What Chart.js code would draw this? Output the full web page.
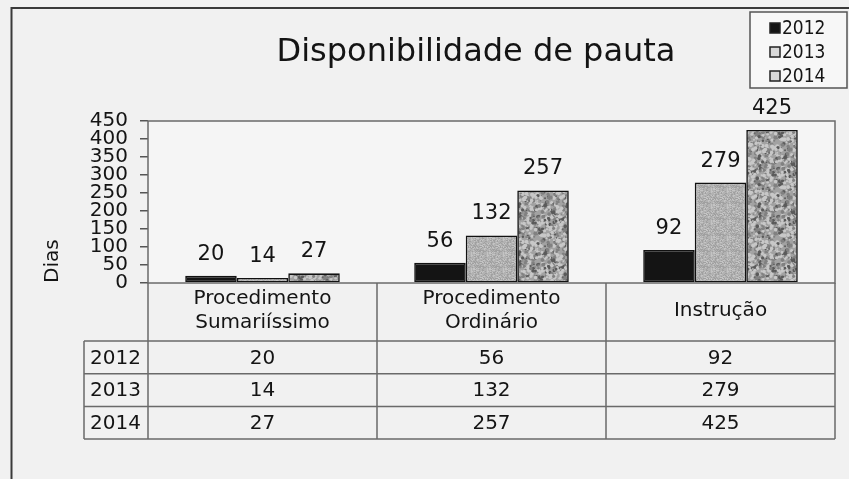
<!DOCTYPE html>
<html>
<head>
<meta charset="utf-8">
<title>Disponibilidade de pauta</title>
<script src="https://cdn.jsdelivr.net/npm/chart.js@4.4.1/dist/chart.umd.min.js"></script>
<style>
  html, body { margin: 0; padding: 0; background: #f1f1f1; }
  canvas { display: block; }
</style>
</head>
<body>
<canvas id="chart" width="849" height="479"></canvas>
<script>
const chartTitle = "Disponibilidade de pauta";
const categories = [["Procedimento", "Sumariíssimo"], ["Procedimento", "Ordinário"], ["Instrução"]];
const years = ["2012", "2013", "2014"];
const values2012 = [20, 56, 92];
const values2013 = [14, 132, 279];
const values2014 = [27, 257, 425];
const yTicks = [0, 50, 100, 150, 200, 250, 300, 350, 400, 450];

const FONT = "'DejaVu Sans', sans-serif";
const TEXT = "#141414";
const LINE = "#6a6a6a";

// scanned-looking textures for the grey bars (fixed hash, not data)
function noise(x, y) {
  const s = Math.sin(x * 12.9898 + y * 78.233) * 43758.5453;
  return s - Math.floor(s);
}

function makePattern(size, draw) {
  const c = document.createElement("canvas");
  c.width = c.height = size;
  const g = c.getContext("2d");
  draw(g, size);
  return g.createPattern(c, "repeat");
}

const fill2013 = makePattern(16, (g, n) => {
  g.fillStyle = "#b2b2b2";
  g.fillRect(0, 0, n, n);
  for (let i = 0; i < n; i++) {
    for (let j = 0; j < n; j++) {
      const v = noise(i, j);
      if (v > 0.72) { g.fillStyle = "#a0a0a0"; g.fillRect(i, j, 1, 1); }
      else if (v < 0.18) { g.fillStyle = "#c4c4c4"; g.fillRect(i, j, 1, 1); }
    }
  }
});

const fill2014 = makePattern(48, (g, n) => {
  g.fillStyle = "#a2a2a2";
  g.fillRect(0, 0, n, n);
  for (let k = 0; k < 420; k++) {
    const px = noise(k, 1.3) * n;
    const py = noise(2.7, k) * n;
    const r = 0.7 + noise(k, k * 0.5) * 1.3;
    const v = noise(k * 1.7, 5.1);
    g.fillStyle = v > 0.55 ? "#c8c8c8" : (v > 0.2 ? "#818181" : "#5a5a5a");
    for (const [ox, oy] of [[0, 0], [n, 0], [0, n], [n, n], [-n, 0], [0, -n]]) {
      g.beginPath();
      g.arc(px + ox, py + oy, r, 0, Math.PI * 2);
      g.fill();
    }
  }
});

const framePlugin = {
  id: "frame",
  beforeDraw(chart) {
    const ctx = chart.ctx;
    const a = chart.chartArea;
    ctx.save();
    ctx.fillStyle = "#f1f1f1";
    ctx.fillRect(0, 0, chart.width, chart.height);
    ctx.strokeStyle = "#3a3a3a";
    ctx.lineWidth = 2;
    ctx.beginPath();
    ctx.moveTo(11.5, chart.height);
    ctx.lineTo(11.5, 8);
    ctx.lineTo(chart.width, 8);
    ctx.stroke();
    ctx.fillStyle = "#f5f5f5";
    ctx.fillRect(a.left, a.top, a.right - a.left, a.bottom - a.top);
    ctx.restore();
  },
  afterDatasetsDraw(chart) {
    const ctx = chart.ctx;
    const a = chart.chartArea;
    ctx.save();
    ctx.strokeStyle = LINE;
    ctx.lineWidth = 1.5;
    ctx.strokeRect(a.left, a.top, a.right - a.left, a.bottom - a.top);
    ctx.restore();
  }
};

const valueLabels = {
  id: "valueLabels",
  afterDatasetsDraw(chart) {
    const ctx = chart.ctx;
    ctx.save();
    ctx.font = "21px " + FONT;
    ctx.fillStyle = TEXT;
    ctx.textAlign = "center";
    ctx.textBaseline = "alphabetic";
    chart.data.datasets.forEach((ds, i) => {
      chart.getDatasetMeta(i).data.forEach((bar, j) => {
        ctx.fillText(String(ds.data[j]), bar.x, bar.y - 16);
      });
    });
    ctx.restore();
  }
};

const titleAndLegend = {
  id: "titleAndLegend",
  afterDraw(chart) {
    const ctx = chart.ctx;
    ctx.save();
    ctx.fillStyle = TEXT;
    ctx.font = "32px " + FONT;
    ctx.textAlign = "center";
    ctx.textBaseline = "alphabetic";
    ctx.fillText(chartTitle, 476, 61);

    // legend box, top right
    ctx.fillStyle = "#f7f7f7";
    ctx.fillRect(750, 12, 97, 76);
    ctx.strokeStyle = "#555";
    ctx.lineWidth = 1.5;
    ctx.strokeRect(750, 12, 97, 76);
    ctx.font = "19px 'DejaVu Sans Condensed', " + FONT;
    ctx.textAlign = "left";
    ctx.textBaseline = "middle";
    chart.data.datasets.forEach((ds, i) => {
      const y = 28 + i * 24;
      ctx.fillStyle = i === 0 ? ds.backgroundColor : "#d8d8d8";
      ctx.fillRect(770, y - 5, 10, 10);
      ctx.strokeStyle = "#222";
      ctx.lineWidth = 1.5;
      ctx.strokeRect(770, y - 5, 10, 10);
      ctx.fillStyle = TEXT;
      ctx.fillText(ds.label, 782, y + 1);
    });
    ctx.restore();
  }
};

// data table under the plot, aligned on the category scale
const dataTable = {
  id: "dataTable",
  afterDraw(chart) {
    const ctx = chart.ctx;
    const a = chart.chartArea;
    const x = chart.scales.x;
    const half = (x.getPixelForValue(1) - x.getPixelForValue(0)) / 2;
    const edges = [a.left].concat(categories.map((c, i) => x.getPixelForValue(i) + half));
    const headTop = a.bottom;
    const rowTop = a.bottom + 58;
    const rowH = 32.7;
    const rows = chart.data.datasets.length;
    const tableLeft = 84;
    const bottom = rowTop + rows * rowH;

    ctx.save();
    ctx.strokeStyle = LINE;
    ctx.lineWidth = 1.5;
    ctx.beginPath();
    edges.forEach((ex) => {
      ctx.moveTo(ex, headTop);
      ctx.lineTo(ex, bottom);
    });
    ctx.moveTo(tableLeft, rowTop);
    ctx.lineTo(tableLeft, bottom);
    for (let r = 0; r <= rows; r++) {
      ctx.moveTo(tableLeft, rowTop + r * rowH);
      ctx.lineTo(a.right, rowTop + r * rowH);
    }
    ctx.stroke();

    ctx.fillStyle = TEXT;
    ctx.font = "20px " + FONT;
    ctx.textBaseline = "middle";
    ctx.textAlign = "center";
    const headMid = headTop + 28;
    categories.forEach((lines, i) => {
      const cx = x.getPixelForValue(i);
      lines.forEach((line, k) => {
        ctx.fillText(line, cx, headMid - (lines.length - 1) * 12 + k * 24);
      });
    });

    chart.data.datasets.forEach((ds, r) => {
      const cy = rowTop + r * rowH + rowH / 2 + 1;
      ctx.textAlign = "left";
      ctx.fillText(ds.label, tableLeft + 6, cy);
      ctx.textAlign = "center";
      ds.data.forEach((v, i) => ctx.fillText(String(v), x.getPixelForValue(i), cy));
    });
    ctx.restore();
  }
};

new Chart(document.getElementById("chart"), {
  type: "bar",
  data: {
    labels: categories,
    datasets: [
      { label: years[0], data: values2012, backgroundColor: "#141414" },
      { label: years[1], data: values2013, backgroundColor: fill2013 },
      { label: years[2], data: values2014, backgroundColor: fill2014 },
    ],
  },
  options: {
    responsive: false,
    devicePixelRatio: 1,
    animation: false,
    events: [],
    layout: { padding: { left: 41, top: 121, right: 14, bottom: 139 } },
    datasets: {
      bar: {
        borderColor: "#111",
        borderWidth: 1.6,
        borderSkipped: false,
        categoryPercentage: 0.675,
        barPercentage: 1,
      },
    },
    plugins: {
      legend: { display: false },
      title: { display: false },
      tooltip: { enabled: false },
    },
    scales: {
      x: {
        ticks: { display: false },
        grid: { display: false },
        border: { display: false },
        afterFit: (scale) => { scale.height = 57; },
      },
      y: {
        min: yTicks[0],
        max: yTicks[yTicks.length - 1],
        afterBuildTicks: (scale) => { scale.ticks = yTicks.map((v) => ({ value: v })); },
        ticks: {
          autoSkip: false,
          padding: 12,
          color: TEXT,
          font: { family: FONT, size: 20, lineHeight: 1 },
        },
        grid: { drawOnChartArea: false, drawTicks: true, tickLength: 8, color: "#555", lineWidth: 1.5 },
        border: { display: false },
        title: {
          display: true,
          text: "Dias",
          align: "start",
          color: TEXT,
          padding: 0,
          font: { family: FONT, size: 20 },
        },
        afterFit: (scale) => { scale.width = 107; },
      },
    },
  },
  plugins: [framePlugin, valueLabels, titleAndLegend, dataTable],
});
</script>
</body>
</html>
